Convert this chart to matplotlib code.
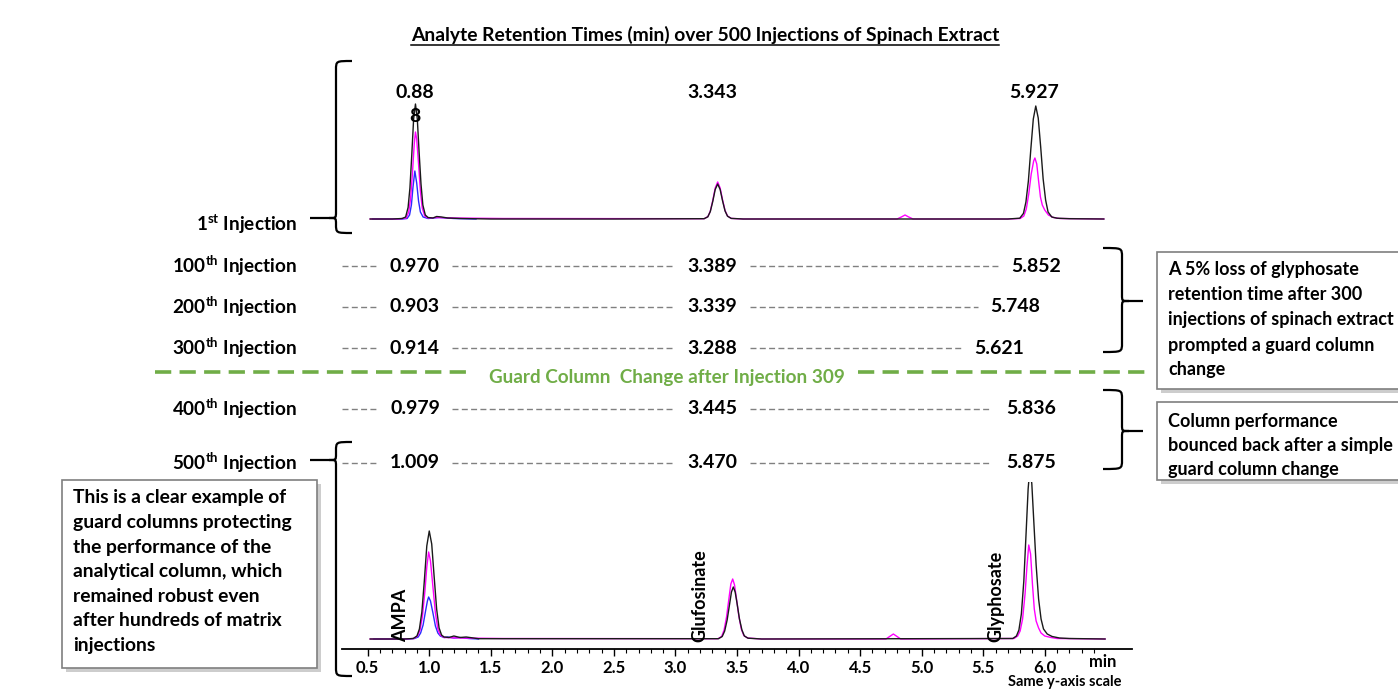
import matplotlib
matplotlib.use('Agg')
import matplotlib.pyplot as plt
from matplotlib.path import Path
from matplotlib.patches import PathPatch, Rectangle

plt.rcParams['font.family'] = ['Lato', 'DejaVu Sans']
plt.rcParams['font.weight'] = 'bold'
plt.rcParams['mathtext.fontset'] = 'custom'
plt.rcParams['mathtext.rm'] = 'Lato:bold'
plt.rcParams['mathtext.it'] = 'Lato:bold'
plt.rcParams['mathtext.bf'] = 'Lato:bold'

# --- donnees : temps de retention (min) ---
injections = ['100', '200', '300', '400', '500']
rt_ampa = ['0.970', '0.903', '0.914', '0.979', '1.009']
rt_glufosinate = ['3.389', '3.339', '3.288', '3.445', '3.470']
rt_glyphosate = ['5.852', '5.748', '5.621', '5.836', '5.875']
rt_first = ['0.888', '3.343', '5.927']

# --- chromatogramme 1ere injection (temps, intensite relative) ---
top_black_t = [0.52, 0.70, 0.78, 0.808, 0.828, 0.843, 0.858, 0.873, 0.888, 0.903, 0.918, 0.933, 0.948,
               0.968, 0.99, 1.03, 1.06, 1.10, 1.15, 1.25, 1.50, 2.50, 3.233, 3.263, 3.283, 3.303, 3.323,
               3.343, 3.363, 3.383, 3.403, 3.423, 3.453, 3.55, 4.50, 5.70, 5.797, 5.827, 5.847, 5.867,
               5.887, 5.907, 5.927, 5.947, 5.967, 5.987, 6.007, 6.027, 6.057, 6.10, 6.20, 6.48]
top_black_y = [0, 0, 0.5, 2, 11.5, 31, 64, 100, 115, 100, 66, 35, 14,
               4, 1.5, 1, 2.5, 2, 1, 0.5, 0, 0, 0.3, 2.2, 7.4, 17.5, 29.5,
               35, 29.5, 18, 8, 2.8, 0.6, 0, 0, 0, 0.8, 5.6, 17, 38,
               70, 100, 113, 101, 72, 40, 19, 7, 2, 0.8, 0.3, 0]
top_magenta_t = [0.52, 0.75, 0.813, 0.833, 0.848, 0.863, 0.878, 0.888, 0.898, 0.913, 0.928, 0.943, 0.963,
                 0.99, 1.06, 1.20, 1.60, 3.233, 3.263, 3.283, 3.303, 3.323, 3.343, 3.363, 3.383, 3.403,
                 3.423, 3.453, 3.55, 4.80, 4.835, 4.865, 4.895, 4.93, 5.70, 5.80, 5.83, 5.85, 5.87, 5.89,
                 5.91, 5.92, 5.935, 5.95, 5.965, 5.98, 6.00, 6.03, 6.07, 6.12, 6.48]
top_magenta_y = [0, 0, 1, 7, 20, 45, 75, 87, 80, 55, 28, 11, 3,
                 1, 1.5, 1, 0.5, 0.3, 2.3, 7.8, 18.5, 31, 37, 31, 19, 8.5,
                 3, 0.6, 0, 0, 2, 4, 2, 0, 0, 0.5, 3, 10, 25, 45,
                 58, 61, 55, 38, 22, 14, 9, 4, 1.5, 0.5, 0]
top_blue_t = [0.54, 0.78, 0.82, 0.84, 0.855, 0.868, 0.883, 0.898, 0.913, 0.928, 0.95, 0.99, 1.08, 1.20, 1.38]
top_blue_y = [0, 0, 0.5, 4, 14, 32, 48, 36, 18, 7, 2, 0.5, 1.5, 0.5, 0]

# --- chromatogramme 500eme injection ---
bot_black_t = [0.52, 0.80, 0.87, 0.90, 0.92, 0.94, 0.96, 0.98, 1.00, 1.02, 1.04, 1.06, 1.08, 1.10, 1.12,
               1.16, 1.20, 1.25, 1.30, 1.40, 3.35, 3.38, 3.40, 3.42, 3.44, 3.455, 3.47, 3.485, 3.50, 3.52,
               3.54, 3.56, 3.59, 3.70, 5.74, 5.77, 5.79, 5.81, 5.83, 5.85, 5.865, 5.88, 5.895, 5.91, 5.93,
               5.95, 5.97, 5.99, 6.02, 6.06, 6.12, 6.20, 6.49]
bot_black_y = [0, 0, 0.5, 3, 10, 27, 58, 93, 108, 95, 62, 30, 11, 4, 2,
               1.5, 3, 1.5, 2, 0.3, 0.3, 2.5, 8, 19, 35, 47, 52, 47, 36, 20,
               9, 3, 0.8, 0, 0.5, 3, 9, 25, 58, 110, 150, 172, 155, 120, 74,
               40, 20, 10, 5, 2.5, 1, 0.5, 0]
bot_magenta_t = [0.52, 0.80, 0.875, 0.905, 0.925, 0.945, 0.965, 0.98, 0.995, 1.01, 1.03, 1.05, 1.07, 1.09,
                 1.12, 1.25, 1.60, 3.345, 3.375, 3.395, 3.415, 3.435, 3.45, 3.465, 3.48, 3.495, 3.515,
                 3.535, 3.555, 3.585, 3.70, 4.71, 4.74, 4.77, 4.80, 4.83, 5.75, 5.78, 5.80, 5.82, 5.84,
                 5.855, 5.87, 5.885, 5.90, 5.915, 5.93, 5.95, 5.97, 6.00, 6.05, 6.10, 6.49]
bot_magenta_y = [0, 0, 0.5, 3, 9, 23, 48, 72, 87, 78, 52, 26, 10, 4,
                 1.5, 1, 0.5, 0.3, 2.5, 9, 22, 41, 55, 60, 54, 41, 23,
                 10, 3.5, 1, 0, 0, 2.5, 5, 2.5, 0, 0.5, 3, 8, 20, 45,
                 72, 94, 85, 55, 30, 18, 11, 6, 3, 1.5, 0.5, 0]
bot_blue_t = [0.55, 0.82, 0.88, 0.91, 0.93, 0.95, 0.97, 0.985, 0.995, 1.01, 1.03, 1.05, 1.07, 1.09, 1.12,
              1.15, 1.20, 1.25, 1.32, 1.40]
bot_blue_y = [0, 0, 0.5, 2, 6, 14, 28, 38, 42, 38, 26, 13, 6, 3, 1.5,
              2, 1, 1.5, 0.5, 0]

analytes = ['AMPA', 'Glufosinate', 'Glyphosate']
analyte_label_t = [0.77, 3.20, 5.60]

box_right1 = ['A 5% loss of glyphosate', 'retention time after 300', 'injections of spinach extract',
              'prompted a guard column', 'change']
box_right2 = ['Column performance', 'bounced back after a simple', 'guard column change']
box_left = ['This is a clear example of', 'guard columns protecting', 'the performance of the',
            'analytical column, which', 'remained robust even', 'after hundreds of matrix', 'injections']

W, H = 1398, 689
fig = plt.figure(figsize=(W / 100, H / 100), dpi=100)

def px_axes(x0, x1, y0, y1):
    # axes placee en pixels (y compte depuis le haut)
    return fig.add_axes([x0 / W, 1 - y1 / H, (x1 - x0) / W, (y1 - y0) / H])

# x : 0.5 min -> 367.7 px, 123.1 px/min
tmin = 0.5 - (367.7 - 342) / 123.1
tmax = 0.5 + (1132 - 367.7) / 123.1

ax_top = px_axes(342, 1132, 90, 232)
ax_top.plot(top_black_t, top_black_y, color='#1a1a1a', lw=1.0, zorder=3)
ax_top.plot(top_magenta_t, top_magenta_y, color='#ff00ff', lw=1.0, zorder=2)
ax_top.plot(top_blue_t, top_blue_y, color='#2a2aff', lw=1.0, zorder=1)
ax_top.set_xlim(tmin, tmax)
ax_top.set_ylim(-13, 129)
ax_top.axis('off')

ax_bot = px_axes(342, 1132, 482, 649)
ax_bot.plot(bot_black_t, bot_black_y, color='#1a1a1a', lw=1.0, zorder=3)
ax_bot.plot(bot_magenta_t, bot_magenta_y, color='#ff00ff', lw=1.0, zorder=2)
ax_bot.plot(bot_blue_t, bot_blue_y, color='#2a2aff', lw=1.0, zorder=1)
ax_bot.set_xlim(tmin, tmax)
ax_bot.set_ylim(-10, 157)
for s in ['top', 'right', 'left']:
    ax_bot.spines[s].set_visible(False)
ax_bot.spines['bottom'].set_linewidth(1.3)
ax_bot.set_yticks([])
ax_bot.set_xticks([0.5 * i for i in range(1, 13)])
ax_bot.set_xticklabels(['%.1f' % (0.5 * i) for i in range(1, 13)], fontsize=12, fontweight='bold')
ax_bot.set_xticks([0.1 * i for i in range(5, 65) if i % 5], minor=True)
ax_bot.tick_params(axis='x', which='major', length=5, width=1, pad=3, direction='out')
ax_bot.tick_params(axis='x', which='minor', length=3, width=0.8, direction='out')
ax_bot.patch.set_alpha(0)
for name, t in zip(analytes, analyte_label_t):
    ax_bot.text(t, -3, name, rotation=90, ha='center', va='bottom', fontsize=13, fontweight='bold')

# --- calque en pixels pour les annotations ---
ov = fig.add_axes([0, 0, 1, 1], zorder=5)
ov.set_xlim(0, W)
ov.set_ylim(H, 0)
ov.axis('off')
ov.patch.set_alpha(0)

ov.text(1103, 662, 'min', ha='center', va='center', fontsize=12, fontweight='bold')

title = ov.text(705, 35, 'Analyte Retention Times (min) over 500 Injections of Spinach Extract',
                ha='center', va='center', fontsize=13.9, fontweight='bold')
fig.canvas.draw()
bb = title.get_window_extent().transformed(ov.transData.inverted())
ov.plot([bb.x0, bb.x1], [45, 45], color='black', lw=1.1)

# valeurs de la 1ere injection
ov.text(415, 93, '0.88', ha='center', va='center', fontsize=14, fontweight='bold')
ov.text(415, 117, '8', ha='center', va='center', fontsize=14, fontweight='bold')
ov.text(712, 93, rt_first[1], ha='center', va='center', fontsize=14, fontweight='bold')
ov.text(1034, 93, rt_first[2], ha='center', va='center', fontsize=14, fontweight='bold')
ov.text(297, 224, '1$^{\\mathrm{st}}$ Injection', ha='right', va='center', fontsize=13.6)

row_y = [266, 307, 348, 409, 463]
glyph_x = [1036, 1015, 999, 1031, 1031]
dash_end = [998, 978, 962, 990, 990]
for i in range(5):
    y = row_y[i]
    ov.text(297, y, injections[i] + '$^{\\mathrm{th}}$ Injection', ha='right', va='center', fontsize=13.6)
    ov.text(415, y, rt_ampa[i], ha='center', va='center', fontsize=14, fontweight='bold')
    ov.text(712, y, rt_glufosinate[i], ha='center', va='center', fontsize=14, fontweight='bold')
    ov.text(glyph_x[i], y, rt_glyphosate[i], ha='center', va='center', fontsize=14, fontweight='bold')
    for x0, x1 in [(342, 378), (452, 673), (750, dash_end[i])]:
        ov.plot([x0, x1], [y, y], color='#808080', lw=1.0, linestyle=(0, (4.3, 2.4)))

# changement de colonne de garde
ov.plot([155, 472], [372, 372], color='#70ad47', lw=2.6, linestyle=(0, (4.5, 2.3)))
ov.plot([858, 1150], [372, 372], color='#70ad47', lw=2.6, linestyle=(0, (4.5, 2.3)))
ov.text(667, 378, 'Guard Column  Change after Injection 309', ha='center', va='center',
        fontsize=13.6, fontweight='bold', color='#70ad47')

def brace(x_end, x_v, x_tip, y_top, y_cusp, y_bot, r=9, r2=6):
    d = 1 if x_tip > x_v else -1
    verts = [(x_end, y_top), (x_v, y_top), (x_v, y_top), (x_v, y_top + r),
             (x_v, y_cusp - r2), (x_v, y_cusp), (x_v, y_cusp), (x_v + d * 7, y_cusp),
             (x_tip, y_cusp),
             (x_v + d * 7, y_cusp), (x_v, y_cusp), (x_v, y_cusp), (x_v, y_cusp + r2),
             (x_v, y_bot - r), (x_v, y_bot), (x_v, y_bot), (x_end, y_bot)]
    codes = [Path.MOVETO, Path.CURVE4, Path.CURVE4, Path.CURVE4,
             Path.LINETO, Path.CURVE4, Path.CURVE4, Path.CURVE4,
             Path.LINETO,
             Path.MOVETO, Path.CURVE4, Path.CURVE4, Path.CURVE4,
             Path.LINETO, Path.CURVE4, Path.CURVE4, Path.CURVE4]
    ov.add_patch(PathPatch(Path(verts, codes), facecolor='none', edgecolor='black', lw=1.6))

brace(352, 336, 310, 61, 218, 233)
brace(352, 336, 310, 442, 460, 676)
brace(1103, 1122, 1143, 248, 301, 352)
brace(1103, 1122, 1143, 390, 431, 469)

def box(x0, y0, x1, y1, lines, tx, ty, dy, fs):
    ov.add_patch(Rectangle((x0 + 4, y0 + 4), x1 - x0, y1 - y0, facecolor='#b8b8b8',
                           edgecolor='none', alpha=0.7, zorder=1))
    ov.add_patch(Rectangle((x0, y0), x1 - x0, y1 - y0, facecolor='white',
                           edgecolor='#7f7f7f', lw=1.2, zorder=2))
    for k, line in enumerate(lines):
        ov.text(tx, ty + k * dy, line, ha='left', va='center', fontsize=fs,
                fontweight='bold', zorder=3)

box(1157, 252, 1430, 389, box_right1, 1168, 270, 25, 13)
box(1157, 402, 1430, 480, box_right2, 1168, 421, 24.5, 13)
box(62, 480, 317, 668, box_left, 73, 498, 24.6, 13.9)

ov.text(1065, 682, 'Same y-axis scale', ha='center', va='center', fontsize=10.5, fontweight='bold')

plt.savefig('out.png', dpi=100)
